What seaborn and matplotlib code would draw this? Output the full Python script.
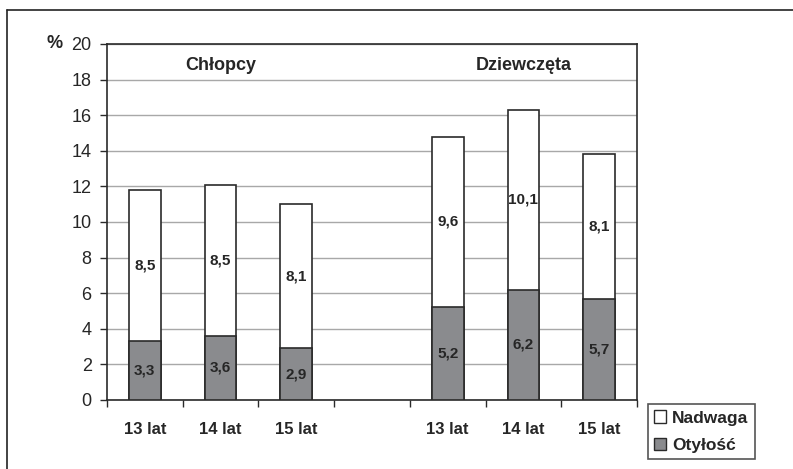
import matplotlib
matplotlib.use("Agg")
import matplotlib.pyplot as plt
import seaborn as sns
import pandas as pd
import numpy as np
from matplotlib.patches import Patch
from matplotlib.lines import Line2D

# Data
keys = ["C13", "C14", "C15", "gap", "D13", "D14", "D15"]
tick_labels = ["13 lat", "14 lat", "15 lat", "", "13 lat", "14 lat", "15 lat"]
otylosc = [3.3, 3.6, 2.9, np.nan, 5.2, 6.2, 5.7]
nadwaga = [8.5, 8.5, 8.1, np.nan, 9.6, 10.1, 8.1]
group_titles = ["Chłopcy", "Dziewczęta"]
legend_labels = ["Nadwaga", "Otyłość"]

sns.set_theme(style="white")
plt.rcParams["font.family"] = ["Liberation Sans", "DejaVu Sans"]

df = pd.DataFrame({"key": keys, "ot": otylosc, "nad": nadwaga})
df["total"] = df["ot"] + df["nad"]

fig = plt.figure(figsize=(7.93, 4.69), dpi=100)
ax = fig.add_axes([107/793, 1-400/469, (637-107)/793, (400-44)/469])

edge = "#2a2a2a"
gray = "#8a8b8e"
sns.barplot(data=df, x="key", y="total", order=keys, color="white", edgecolor=edge,
            linewidth=1.2, width=0.42, saturation=1, ax=ax, zorder=3)
sns.barplot(data=df, x="key", y="ot", order=keys, color=gray, edgecolor=edge,
            linewidth=1.2, width=0.42, saturation=1, ax=ax, zorder=4)

# value labels
for i, (o, n) in enumerate(zip(otylosc, nadwaga)):
    if np.isnan(o):
        continue
    ax.text(i, o / 2, f"{o:.1f}".replace(".", ","), ha="center", va="center",
            fontsize=11, fontweight="bold", zorder=5)
    ax.text(i, o + n / 2, f"{n:.1f}".replace(".", ","), ha="center", va="center",
            fontsize=11, fontweight="bold", zorder=5)

ax.set_ylim(0, 20)
ax.set_xlim(-0.5, 6.5)
ax.set_yticks(np.arange(0, 21, 2))
ax.set_yticklabels([str(v) for v in range(0, 21, 2)], fontsize=13)
ax.yaxis.grid(True, color="#a8a8a8", linewidth=1.0, zorder=0)
ax.set_axisbelow(True)

# x ticks at boundaries, labels at centres
ax.set_xticks(np.arange(-0.5, 7, 1))
ax.set_xticklabels([])
ax.set_xticks(np.arange(0, 7), minor=True)
ax.set_xticklabels(tick_labels, minor=True, fontsize=12, fontweight="bold")
ax.tick_params(axis="x", which="major", direction="out", length=5, width=1, color=edge, bottom=True)
ax.tick_params(axis="x", which="minor", length=0, pad=15.5)
ax.tick_params(axis="y", direction="out", length=5, width=1, color=edge, left=True, pad=6)
ax.set_xlabel("")
ax.set_ylabel("")

for s in ax.spines.values():
    s.set_visible(True)
    s.set_color(edge)
    s.set_linewidth(1.2)

ax.text(1, 18.8, group_titles[0], ha="center", va="center", fontsize=13, fontweight="bold")
ax.text(5, 18.8, group_titles[1], ha="center", va="center", fontsize=13, fontweight="bold")

fig.text(55/793, 1-44/469, "%", ha="center", va="center", fontsize=13, fontweight="bold")

handles = [Patch(facecolor="white", edgecolor=edge, linewidth=1.0),
           Patch(facecolor=gray, edgecolor=edge, linewidth=1.0)]
leg = fig.legend(handles, legend_labels, loc="lower left",
                 bbox_to_anchor=(648/793, 1-459/469), frameon=True, fancybox=False,
                 prop={"weight": "bold", "size": 12.5}, handlelength=0.7, handleheight=0.7,
                 handletextpad=0.35, labelspacing=0.7, borderpad=0.35, borderaxespad=0)
leg.get_frame().set_edgecolor(edge)
leg.get_frame().set_linewidth(1.2)

# figure border (left and top)
fig.add_artist(Line2D([7/793, 7/793], [0, 1-10/469], color="#222222", linewidth=1.2))
fig.add_artist(Line2D([7/793, 1.0], [1-10/469, 1-10/469], color="#222222", linewidth=1.2))

fig.savefig("out.png", dpi=100)
